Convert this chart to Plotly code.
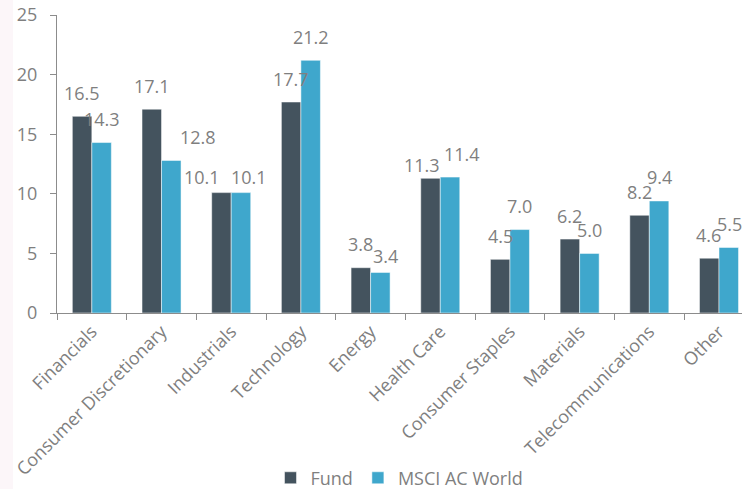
import plotly.graph_objects as go

categories = ["Financials", "Consumer Discretionary", "Industrials", "Technology",
              "Energy", "Health Care", "Consumer Staples", "Materials",
              "Telecommunications", "Other"]
fund = [16.5, 17.1, 10.1, 17.7, 3.8, 11.3, 4.5, 6.2, 8.2, 4.6]
msci = [14.3, 12.8, 10.1, 21.2, 3.4, 11.4, 7.0, 5.0, 9.4, 5.5]
y_ticks = [0, 5, 10, 15, 20, 25]

FUND_COLOR = "#44535e"
MSCI_COLOR = "#3fa7cc"
TEXT_COLOR = "#7f7f7f"
AXIS_COLOR = "#8c8c8c"
FONT = "Open Sans, DejaVu Sans, sans-serif"
FS = 18

# label nudges (px) for crowded value labels: (xshift, yshift)
fund_nudge = {2: (-19, 16), 5: (-9, 13), 9: (-1, 23.5)}
msci_nudge = {1: (27, 23), 2: (8, 16), 4: (5, 16), 5: (12, 23), 9: (1, 23.5)}

fig = go.Figure()
fig.add_trace(go.Bar(name="Fund", x=categories, y=fund, marker_color=FUND_COLOR,
                     marker_line=dict(color="white", width=0.5), offsetgroup="a"))
fig.add_trace(go.Bar(name="MSCI AC World", x=categories, y=msci, marker_color=MSCI_COLOR,
                     marker_line=dict(color="white", width=0.5), offsetgroup="b"))

bar_half = 0.14
for i, cat in enumerate(categories):
    for vals, sign, nudge in ((fund, -1, fund_nudge), (msci, 1, msci_nudge)):
        dx, dy = nudge.get(i, (0, 23.5))
        fig.add_annotation(x=i + sign * bar_half, y=vals[i], xref="x", yref="y",
                           text=f"{vals[i]:.1f}", showarrow=False,
                           xanchor="center", yanchor="middle",
                           xshift=dx, yshift=dy,
                           font=dict(family=FONT, size=FS, color=TEXT_COLOR))

# faint tinted strip along the left edge of the page
fig.add_shape(type="rect", xref="paper", yref="paper", x0=-57 / 685, x1=-44 / 685,
              y0=-176 / 298, y1=313 / 298 - 0.0, fillcolor="#fcf6f9",
              line=dict(width=0), layer="below")

fig.update_layout(
    width=742, height=489,
    margin=dict(l=57, r=0, t=15, b=176, autoexpand=False),
    paper_bgcolor="white", plot_bgcolor="white",
    barmode="group", bargap=0.44, bargroupgap=0,
    font=dict(family=FONT, size=FS, color=TEXT_COLOR),
    showlegend=True,
    legend=dict(orientation="h", x=0.5, xanchor="center", y=-0.554, yanchor="middle",
                font=dict(family=FONT, size=FS, color=TEXT_COLOR),
                itemwidth=30, traceorder="normal"),
)
fig.update_xaxes(
    type="category", range=[-0.5, 9.33], automargin=False,
    tickangle=-45, tickson="boundaries",
    ticks="outside", ticklen=6, tickcolor=AXIS_COLOR,
    showline=True, linecolor=AXIS_COLOR, linewidth=1,
    showgrid=False, tickfont=dict(family=FONT, size=FS, color=TEXT_COLOR),
)
fig.update_yaxes(
    range=[0, 25], tickvals=y_ticks, ticktext=[str(v) for v in y_ticks],
    automargin=False, ticklabelstandoff=9,
    ticks="outside", ticklen=6, tickcolor=AXIS_COLOR,
    showline=True, linecolor=AXIS_COLOR, linewidth=1,
    showgrid=False, zeroline=False,
    tickfont=dict(family=FONT, size=FS, color=TEXT_COLOR),
)

fig.write_html("out.html")
